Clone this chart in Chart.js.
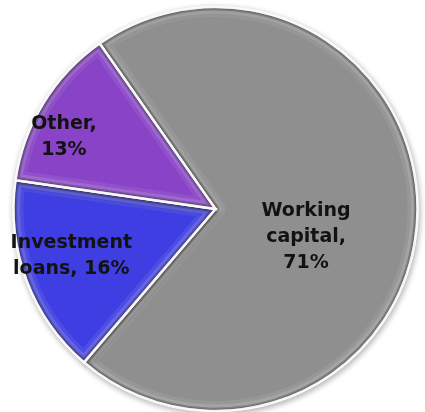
<!DOCTYPE html>
<html>
<head>
<meta charset="utf-8">
<script src="https://cdn.jsdelivr.net/npm/chart.js@4/dist/chart.umd.min.js"></script>
<style>
  html, body { margin: 0; padding: 0; background: #fff; }
  #wrap { width: 425px; height: 412px; }
</style>
</head>
<body>
<div id="wrap"><canvas id="c" width="425" height="412"></canvas></div>
<script>
// Loan portfolio by purpose
const categories = ['Working capital', 'Investment loans', 'Other'];
const shares = [71, 16, 13];
const sliceColors = ['#8f8f8f', '#3e3ee2', '#8843c6'];
// how many words go on each line of a slice label
const labelWordsPerLine = [[1, 1, 1], [1, 2], [1, 1]];
// label placement: distance from the centre (fraction of radius) and turn off the mid-angle (deg)
const labelRadius = [0.47, 0.75, 0.83];
const labelTurn = [14.7, 2.7, -6.3];

function labelLines(i) {
  const words = (categories[i] + ', ' + shares[i] + '%').split(' ');
  const lines = [];
  let k = 0;
  for (const n of labelWordsPerLine[i]) {
    lines.push(words.slice(k, k + n).join(' '));
    k += n;
  }
  return lines;
}

function arcPath(ctx, a) {
  const mid = (a.startAngle + a.endAngle) / 2;
  const off = a.options.offset || 0;
  const cx = a.x + Math.cos(mid) * off;
  const cy = a.y + Math.sin(mid) * off;
  ctx.beginPath();
  ctx.moveTo(cx, cy);
  ctx.arc(cx, cy, a.outerRadius, a.startAngle, a.endAngle);
  ctx.closePath();
}

// soft drop shadow under the pie
const shadowPlugin = {
  id: 'pieShadow',
  beforeDatasetsDraw(chart) {
    const ctx = chart.ctx;
    ctx.save();
    ctx.shadowColor = 'rgba(0,0,0,0.30)';
    ctx.shadowBlur = 6;
    ctx.shadowOffsetX = 1;
    ctx.shadowOffsetY = 2;
  },
  afterDatasetsDraw(chart) {
    chart.ctx.restore();
  }
};

// bevelled edges on each slice, then the slice labels
const bevelPlugin = {
  id: 'bevel',
  afterDatasetsDraw(chart) {
    const ctx = chart.ctx;
    const meta = chart.getDatasetMeta(0);
    meta.data.forEach((a) => {
      ctx.save();
      arcPath(ctx, a);
      ctx.clip();
      ctx.lineJoin = 'round';
      arcPath(ctx, a);
      ctx.lineWidth = 20;
      ctx.strokeStyle = 'rgba(255,255,255,0.08)';
      ctx.stroke();
      ctx.lineWidth = 13;
      ctx.strokeStyle = 'rgba(255,255,255,0.14)';
      ctx.stroke();
      ctx.lineWidth = 7;
      ctx.strokeStyle = 'rgba(0,0,0,0.22)';
      ctx.stroke();
      ctx.lineWidth = 4;
      ctx.strokeStyle = 'rgba(0,0,0,0.18)';
      ctx.stroke();
      ctx.restore();

      ctx.save();
      arcPath(ctx, a);
      ctx.lineJoin = 'miter';
      ctx.lineWidth = 2.5;
      ctx.strokeStyle = 'rgba(250,250,250,0.95)';
      ctx.stroke();
      ctx.restore();
    });

    ctx.save();
    ctx.fillStyle = '#121212';
    ctx.font = 'bold 19px "DejaVu Sans", sans-serif';
    ctx.textAlign = 'center';
    ctx.textBaseline = 'middle';
    const lh = 26;
    meta.data.forEach((a, i) => {
      const ang = (a.startAngle + a.endAngle) / 2 + labelTurn[i] * Math.PI / 180;
      const r = a.outerRadius * labelRadius[i];
      const x = a.x + Math.cos(ang) * r;
      const y = a.y + Math.sin(ang) * r;
      const lines = labelLines(i);
      const top = y - (lines.length - 1) * lh / 2;
      lines.forEach((t, j) => ctx.fillText(t, x, top + j * lh));
    });
    ctx.restore();
  }
};

new Chart(document.getElementById('c'), {
  type: 'pie',
  data: {
    labels: categories,
    datasets: [{
      data: shares,
      backgroundColor: sliceColors,
      borderColor: '#ffffff',
      borderWidth: 2
    }]
  },
  options: {
    responsive: false,
    animation: false,
    rotation: -35,
    layout: { padding: { left: 8, top: 6, right: 2, bottom: 0 } },
    plugins: {
      legend: { display: false },
      tooltip: { enabled: false }
    }
  },
  plugins: [shadowPlugin, bevelPlugin]
});
</script>
</body>
</html>
